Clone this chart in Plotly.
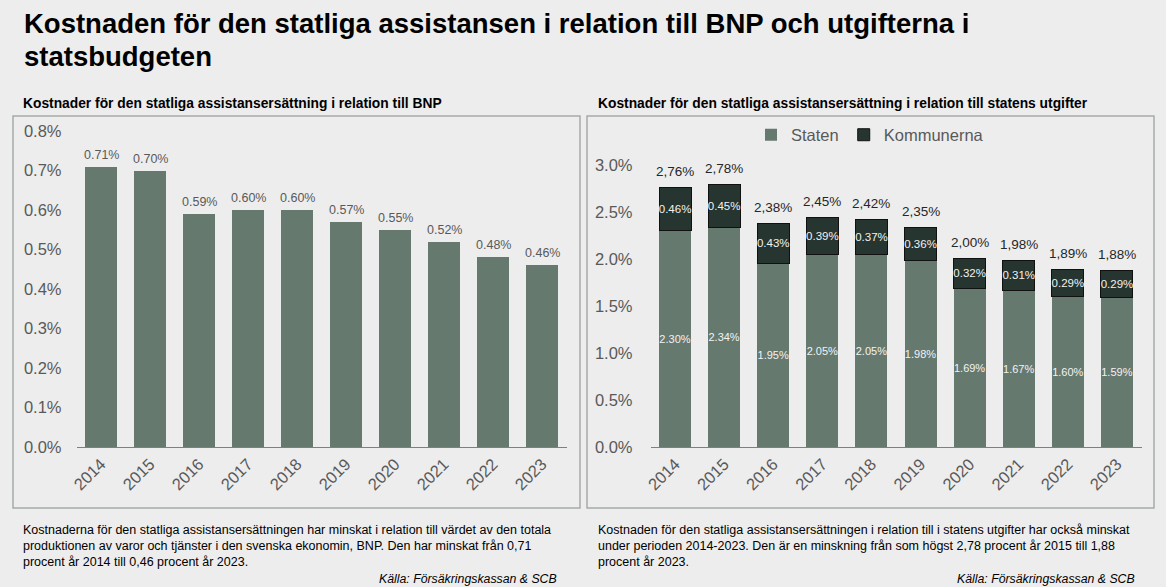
import plotly.graph_objects as go

W, H = 1166, 587

years = ["2014", "2015", "2016", "2017", "2018", "2019", "2020", "2021", "2022", "2023"]
bnp_share = [0.71, 0.70, 0.59, 0.60, 0.60, 0.57, 0.55, 0.52, 0.48, 0.46]
staten = [2.30, 2.34, 1.95, 2.05, 2.05, 1.98, 1.69, 1.67, 1.60, 1.59]
kommunerna = [0.46, 0.45, 0.43, 0.39, 0.37, 0.36, 0.32, 0.31, 0.29, 0.29]
totals = [2.76, 2.78, 2.38, 2.45, 2.42, 2.35, 2.00, 1.98, 1.89, 1.88]

title_lines = ["Kostnaden för den statliga assistansen i relation till BNP och utgifterna i",
               "statsbudgeten"]
sub_left = "Kostnader för den statliga assistansersättning i relation till BNP"
sub_right = "Kostnader för den statliga assistansersättning i relation till statens utgifter"
note_left = ["Kostnaderna för den statliga assistansersättningen har minskat i relation till värdet av den totala",
             "produktionen av varor och tjänster i den svenska ekonomin, BNP. Den har minskat från 0,71",
             "procent år 2014 till 0,46 procent år 2023."]
note_right = ["Kostnaden för den statliga assistansersättningen i relation till i statens utgifter har också minskat",
              "under perioden 2014-2023. Den är en minskning från som högst 2,78 procent år 2015 till 1,88",
              "procent år 2023."]
source = "Källa: Försäkringskassan & SCB"

FONT = "Liberation Sans, Arial, sans-serif"
BG = "#ededed"
C_STATEN = "#66796f"
C_KOMMUN = "#263530"
GRAY = "#595959"


def px(x):
    return x / W


def py(y):
    return 1 - y / H


fig = go.Figure()

fig.add_trace(go.Bar(
    x=years, y=bnp_share, marker=dict(color=C_STATEN, line=dict(width=0)),
    showlegend=False, xaxis="x", yaxis="y", hoverinfo="skip"))

fig.add_trace(go.Bar(
    name="Staten", x=years, y=staten, marker=dict(color=C_STATEN, line=dict(width=0)),
    text=[f"{v:.2f}%" for v in staten], textposition="inside", insidetextanchor="middle",
    constraintext="none", textangle=0,
    textfont=dict(size=11, color="#f2f2f2", family=FONT),
    xaxis="x2", yaxis="y2", hoverinfo="skip"))

fig.add_trace(go.Bar(
    name="Kommunerna", x=years, y=kommunerna,
    marker=dict(color=C_KOMMUN, line=dict(width=1, color="#111111")),
    text=[f"{v:.2f}%" for v in kommunerna], textposition="inside", insidetextanchor="middle",
    constraintext="none", textangle=0,
    textfont=dict(size=11.5, color="#f2f2f2", family=FONT),
    xaxis="x2", yaxis="y2", hoverinfo="skip"))

axis_common = dict(showgrid=False, zeroline=False, fixedrange=True, automargin=False)
xcommon = dict(axis_common, type="category", range=[-0.5, len(years) - 0.5], tickangle=-45,
               tickfont=dict(size=16.5, color=GRAY, family=FONT),
               showline=True, linecolor="#7f7f7f", linewidth=1, ticks="")
ycommon = dict(axis_common, ticksuffix="%", tickformat=".1f",
               tickfont=dict(size=16.5, color=GRAY, family=FONT), showline=False, ticks="")

fig.update_layout(
    width=W, height=H, margin=dict(l=0, r=0, t=0, b=0, autoexpand=False),
    paper_bgcolor=BG, plot_bgcolor=BG, barmode="stack", bargap=0.35,
    font=dict(family=FONT),
    xaxis=dict(xcommon, domain=[px(76.5), px(566.5)], anchor="y"),
    yaxis=dict(ycommon, domain=[py(447), py(131)], range=[0, 0.8], dtick=0.1, anchor="x",
               ticklabelstandoff=14),
    xaxis2=dict(xcommon, domain=[px(650.5), px(1141.5)], anchor="y2"),
    yaxis2=dict(ycommon, domain=[py(447), py(165)], range=[0, 3.0], dtick=0.5, anchor="x2",
                ticklabelstandoff=17),
    legend=dict(orientation="h", x=px(870), y=py(135), xanchor="center", yanchor="middle",
                font=dict(size=16.5, color=GRAY, family=FONT), bgcolor="rgba(0,0,0,0)",
                itemwidth=30, tracegroupgap=0, traceorder="normal"),
)

# panel borders
for x0, x1 in [(13, 580), (587, 1154)]:
    fig.add_shape(type="rect", xref="paper", yref="paper", x0=px(x0), x1=px(x1),
                  y0=py(508), y1=py(116), line=dict(color="#a6aca8", width=1.5),
                  fillcolor="rgba(0,0,0,0)", layer="below")

annos = []
# value labels above the bars (category index on the category axis)
for i, v in enumerate(bnp_share):
    annos.append(dict(text=f"{v:.2f}%", x=i, y=v, xref="x", yref="y", yanchor="middle",
                      yshift=12, font=dict(size=12.5, color=GRAY, family=FONT)))
for i, (s, k, t) in enumerate(zip(staten, kommunerna, totals)):
    annos.append(dict(text=f"{t:.2f}%".replace(".", ","), x=i, y=s + k, xref="x2", yref="y2",
                      yanchor="middle", yshift=16, font=dict(size=13.5, color="#262626", family=FONT)))

paper_annos = []
for i, line in enumerate(title_lines):
    paper_annos.append(dict(text=f"<b>{line}</b>", x=px(22), y=py(23 + 34 * i), xanchor="left",
                            yanchor="middle", font=dict(size=27.5, color="#000000", family=FONT)))
paper_annos.append(dict(text=f"<b>{sub_left}</b>", x=px(21), y=py(103), xanchor="left", yanchor="middle",
                        font=dict(size=13.8, color="#000000", family=FONT)))
paper_annos.append(dict(text=f"<b>{sub_right}</b>", x=px(596), y=py(103), xanchor="left", yanchor="middle",
                        font=dict(size=13.8, color="#000000", family=FONT)))
for i, line in enumerate(note_left):
    paper_annos.append(dict(text=line, x=px(21), y=py(530 + 16 * i), xanchor="left", yanchor="middle",
                            font=dict(size=12.5, color="#000000", family=FONT)))
for i, line in enumerate(note_right):
    paper_annos.append(dict(text=line, x=px(596), y=py(530 + 16 * i), xanchor="left", yanchor="middle",
                            font=dict(size=12.5, color="#000000", family=FONT)))
paper_annos.append(dict(text=f"<i>{source}</i>", x=px(559), y=py(579), xanchor="right", yanchor="middle",
                        font=dict(size=12.3, color="#000000", family=FONT)))
paper_annos.append(dict(text=f"<i>{source}</i>", x=px(1137), y=py(579), xanchor="right", yanchor="middle",
                        font=dict(size=12.3, color="#000000", family=FONT)))
for a in paper_annos:
    a.update(xref="paper", yref="paper")
annos += paper_annos
for a in annos:
    a.update(showarrow=False)
fig.update_layout(annotations=annos)

fig.write_html("out.html")
